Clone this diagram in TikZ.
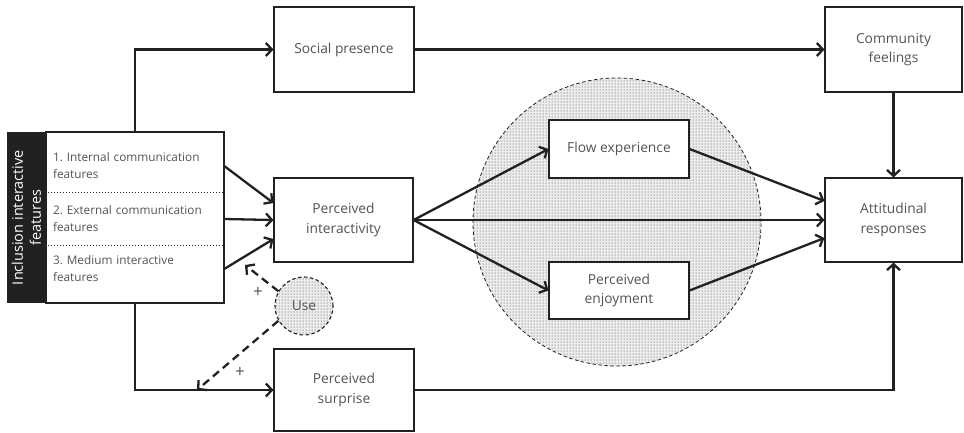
\documentclass[tikz,border=0pt]{standalone}
\usepackage{fontspec}
\setmainfont{Open Sans}
\usepackage{xcolor}
\definecolor{modelInk}{gray}{0.13}
\definecolor{modelText}{gray}{0.33}
\definecolor{modelDots}{gray}{0.2}
\definecolor{modelShade}{gray}{0.93}
\usetikzlibrary{arrows.meta,patterns}
\frenchspacing

\begin{document}
\begin{tikzpicture}[x=1pt, y=-1pt,
  box/.style={draw=modelInk, line width=1.1pt, fill=white, align=center,
    inner sep=0pt, text=modelText, font=\fontsize{13.8}{19.5}\selectfont},
  item/.style={minimum width=178pt, text width=164pt, align=left, inner sep=0pt,
    text=modelText, font=\fontsize{11.8}{17}\selectfont},
  link/.style={-{Straight Barb[length=6pt,width=13pt]}, line width=2.3pt, modelInk},
  uselink/.style={link, dash pattern=on 8pt off 5pt}]
  \useasboundingbox (0,0) rectangle (964,432);

  % ---------------- the dotted zone behind the mediators ----------------
  \fill[modelShade] (617,222) circle (144pt);
  \fill[pattern=dots, pattern color=modelDots] (617,222) circle (144pt);
  \draw[modelInk, line width=0.8pt, dash pattern=on 3.5pt off 2.5pt] (617,222) circle (144pt);

  % ---------------- the features block ----------------
  \node[fill=modelInk, minimum width=39pt, minimum height=171pt, inner sep=0pt] (bar) at (26.5,217.5) {};
  \node[rotate=90, text=white, align=center, font=\fontsize{14.5}{18}\selectfont] (barlabel) at (bar) {Inclusion interactive\\features};
  \node[draw=modelInk, line width=1.1pt, fill=white, minimum width=178pt, minimum height=171pt, inner sep=0pt] (feat) at (135,217.5) {};
  \node[item] (item1) at (135,166) {1. Internal communication\\features};
  \node[item] (item2) at (135,219) {2. External communication\\features};
  \node[item] (item3) at (135,269) {3. Medium interactive\\features};
  \draw[modelInk, line width=1pt, dotted] (feat.west |- 0,192) -- (feat.east |- 0,192);
  \draw[modelInk, line width=1pt, dotted] (feat.west |- 0,245) -- (feat.east |- 0,245);

  % ---------------- the constructs ----------------
  \node[box, minimum width=140pt, minimum height=85pt] (social) at (344,49.5) {Social presence};
  \node[box, minimum width=137pt, minimum height=85pt] (community) at (893.5,49.5) {Community\\feelings};
  \node[box, minimum width=139pt, minimum height=84pt] (inter) at (343.5,220) {Perceived\\interactivity};
  \node[box, minimum width=137pt, minimum height=84pt] (attitude) at (893.5,220) {Attitudinal\\responses};
  \node[box, minimum width=140pt, minimum height=58pt] (flow) at (619,149) {Flow experience};
  \node[box, minimum width=140pt, minimum height=57pt] (enjoy) at (619,290.5) {Perceived\\enjoyment};
  \node[box, minimum width=140pt, minimum height=82pt] (surprise) at (344,390) {Perceived\\surprise};

  % ---------------- the moderator ----------------
  \node[circle, minimum size=58pt, inner sep=0pt, fill=modelShade] (usebg) at (304,306) {};
  \fill[pattern=dots, pattern color=modelDots] (usebg) circle (29pt);
  \node[circle, draw=modelInk, line width=1.1pt, dash pattern=on 3.5pt off 2.5pt, minimum size=58pt,
    inner sep=0pt, text=modelText, font=\fontsize{13.8}{17}\selectfont] (use) at (usebg) {Use};

  % ---------------- paths ----------------
  \draw[link] (feat.north) |- (social.west);
  \draw[link] (feat.south) |- (surprise.west);
  \draw[link] (social.east) -- (community.west);
  \draw[link] (community.south) -- (attitude.north);
  \draw[link] (item1.east) -- ([yshift=17pt]inter.west);
  \draw[link] (item2.east) -- (inter.west);
  \draw[link] (item3.east) -- ([yshift=-19pt]inter.west);
  \draw[link] (inter.east) -- (flow.west);
  \draw[link] (inter.east) -- (enjoy.west);
  \draw[link] (inter.east) -- (attitude.west);
  \draw[link] (flow.east) -- ([yshift=19pt]attitude.west);
  \draw[link] (enjoy.east) -- ([yshift=-18pt]attitude.west);
  \draw[link] (surprise.east) -| (attitude.south);

  % ---------------- moderation by use ----------------
  \coordinate (usetip) at (245,265);
  \coordinate (splittip) at (197,390);
  \draw[uselink] (use.150) -- (usetip);
  \draw[uselink] (use.210) -- (splittip);
  \node[text=modelText, font=\fontsize{17}{19}\selectfont] (plusA) at (258,292) {+};
  \node[text=modelText, font=\fontsize{17}{19}\selectfont] (plusB) at (240,372) {+};
\end{tikzpicture}
\end{document}
